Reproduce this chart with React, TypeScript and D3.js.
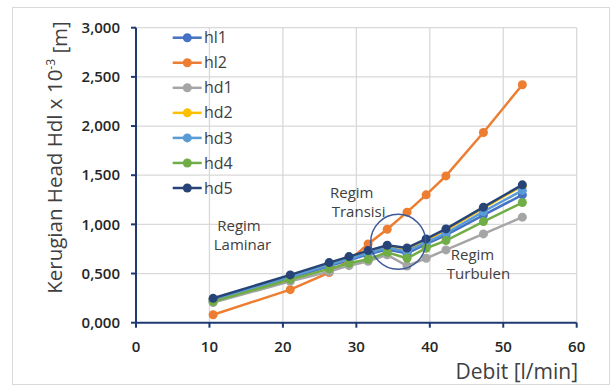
import React from "react";
import * as d3 from "d3";

// Flow rate (l/min) at each measurement
const debit = [10.5, 21, 26.3, 29, 31.6, 34.2, 36.9, 39.5, 42.2, 47.3, 52.6];

// Head loss per series (x 10^-3 m)
const hl1 = [225, 455, 575, 635, 695, 745, 705, 800, 890, 1095, 1300];
const hl2 = [81, 336, 510, 630, 800, 950, 1124, 1300, 1493, 1934, 2420];
const hd1 = [205, 420, 519, 580, 625, 690, 577, 655, 740, 903, 1073];
const hd2 = [242, 478, 602, 662, 722, 778, 748, 842, 940, 1165, 1392];
const hd3 = [232, 465, 588, 648, 708, 762, 725, 818, 910, 1130, 1345];
const hd4 = [214, 440, 547, 605, 645, 716, 655, 757, 835, 1028, 1222];
const hd5 = [248, 486, 611, 672, 733, 788, 760, 852, 954, 1175, 1402];

const seriesNames = ["hl1", "hl2", "hd1", "hd2", "hd3", "hd4", "hd5"];
const seriesValues = [hl1, hl2, hd1, hd2, hd3, hd4, hd5];
const seriesColors = ["#4472C4", "#ED7D31", "#A5A5A5", "#FFC000", "#5B9BD5", "#70AD47", "#264478"];

const xTicks = [0, 10, 20, 30, 40, 50, 60];
const yTicks = [0, 500, 1000, 1500, 2000, 2500, 3000];

// Flow regime annotations
const regimeWord = "Regim";
const regimeNames = ["Laminar", "Transisi", "Turbulen"];
// anchor of each two-line label in data units: [x of "Regim", x of name, y of first baseline]
const regimeAnchors: [number, number, number][] = [
  [14.02, 14.5, 934],
  [29.37, 30.31, 1270],
  [45.81, 46.63, 638],
];
const transitionCircle = { x: 35.7, y: 822, r: 27.5 };

const W = 611;
const H = 390;
const margin = { left: 136, top: 27.7, right: 576.7, bottom: 322.7 };
const font = "'Open Sans', 'Liberation Sans', Arial, sans-serif";
const axisColor = "#1F3A73";

export default function App() {
  const x = d3.scaleLinear().domain([0, 60]).range([margin.left, margin.right]);
  const y = d3.scaleLinear().domain([0, 3000]).range([margin.bottom, margin.top]);
  const line = d3
    .line<[number, number]>()
    .x((d) => x(d[0]))
    .y((d) => y(d[1]));
  const fmtY = (v: number) => {
    const s = (v / 1000).toFixed(3);
    const [a, b] = s.split(".");
    return `${a},${b}`;
  };

  return (
    <svg
      width={W}
      height={H}
      style={{ position: "absolute", left: 0, top: 0, background: "#fff" }}
      fontFamily={font}
    >
      <rect x={12.5} y={7.5} width={597} height={377} fill="#fff" stroke="#D9D9D9" strokeWidth={1} />

      {/* grid */}
      {yTicks.map((t) => (
        <line key={"gy" + t} x1={margin.left} x2={margin.right} y1={y(t)} y2={y(t)} stroke="#D9D9D9" strokeWidth={1.3} />
      ))}
      {xTicks.map((t) => (
        <line key={"gx" + t} x1={x(t)} x2={x(t)} y1={margin.top} y2={margin.bottom} stroke="#D9D9D9" strokeWidth={1.3} />
      ))}

      {/* axes */}
      <line x1={margin.left} x2={margin.left} y1={margin.top} y2={margin.bottom} stroke={axisColor} strokeWidth={2} />
      <line x1={margin.left} x2={margin.right} y1={margin.bottom} y2={margin.bottom} stroke={axisColor} strokeWidth={2} />
      {yTicks.map((t) => (
        <g key={"ty" + t}>
          <line x1={margin.left - 5} x2={margin.left} y1={y(t)} y2={y(t)} stroke={axisColor} strokeWidth={2} />
          <text x={120} y={y(t)} dy="0.35em" textAnchor="end" fontSize={15} fontWeight={600} fill="#262626">
            {fmtY(t)}
          </text>
        </g>
      ))}
      {xTicks.map((t) => (
        <g key={"tx" + t}>
          <line x1={x(t)} x2={x(t)} y1={margin.bottom} y2={margin.bottom + 5} stroke={axisColor} strokeWidth={2} />
          <text x={x(t)} y={346.7} dy="0.35em" textAnchor="middle" fontSize={15} fontWeight={600} fill="#262626">
            {t}
          </text>
        </g>
      ))}

      {/* axis titles */}
      <text x={578} y={372} dy="0.35em" textAnchor="end" fontSize={21} fill="#404040">
        Debit [l/min]
      </text>
      <text
        transform={`translate(55,157.5) rotate(-90)`}
        textAnchor="middle"
        dy="0.35em"
        fontSize={20.5}
        fill="#404040"
      >
        Kerugian Head Hdl x 10
        <tspan dy="-0.6em" fontSize={12}>-3</tspan>
        <tspan dy="0.6em"> [m]</tspan>
      </text>

      {/* series */}
      {seriesValues.map((vals, i) => {
        const pts = debit.map((d, j) => [d, vals[j]] as [number, number]);
        return (
          <g key={seriesNames[i]}>
            <path d={line(pts) || ""} fill="none" stroke={seriesColors[i]} strokeWidth={2.5} />
            {pts.map((p, j) => (
              <circle key={j} cx={x(p[0])} cy={y(p[1])} r={4.5} fill={seriesColors[i]} />
            ))}
          </g>
        );
      })}

      {/* annotations */}
      <circle
        cx={x(transitionCircle.x)}
        cy={y(transitionCircle.y)}
        r={transitionCircle.r}
        fill="none"
        stroke="#3B5998"
        strokeWidth={1.5}
      />
      {regimeNames.map((name, i) => {
        const [x1, x2, yb] = regimeAnchors[i];
        return (
          <text key={name} y={y(yb)} textAnchor="middle" fontSize={15} fill="#404040">
            <tspan x={x(x1)}>{regimeWord}</tspan>
            <tspan x={x(x2)} dy="1.3em">{name}</tspan>
          </text>
        );
      })}

      {/* legend */}
      {seriesNames.map((n, i) => {
        const ly = 37.7 + i * 25.05;
        return (
          <g key={"lg" + n}>
            <line x1={172.7} x2={201.7} y1={ly} y2={ly} stroke={seriesColors[i]} strokeWidth={2.5} />
            <circle cx={187.3} cy={ly} r={4.5} fill={seriesColors[i]} />
            <text x={204} y={ly} dy="0.35em" fontSize={16} fill="#404040">
              {n}
            </text>
          </g>
        );
      })}
    </svg>
  );
}
